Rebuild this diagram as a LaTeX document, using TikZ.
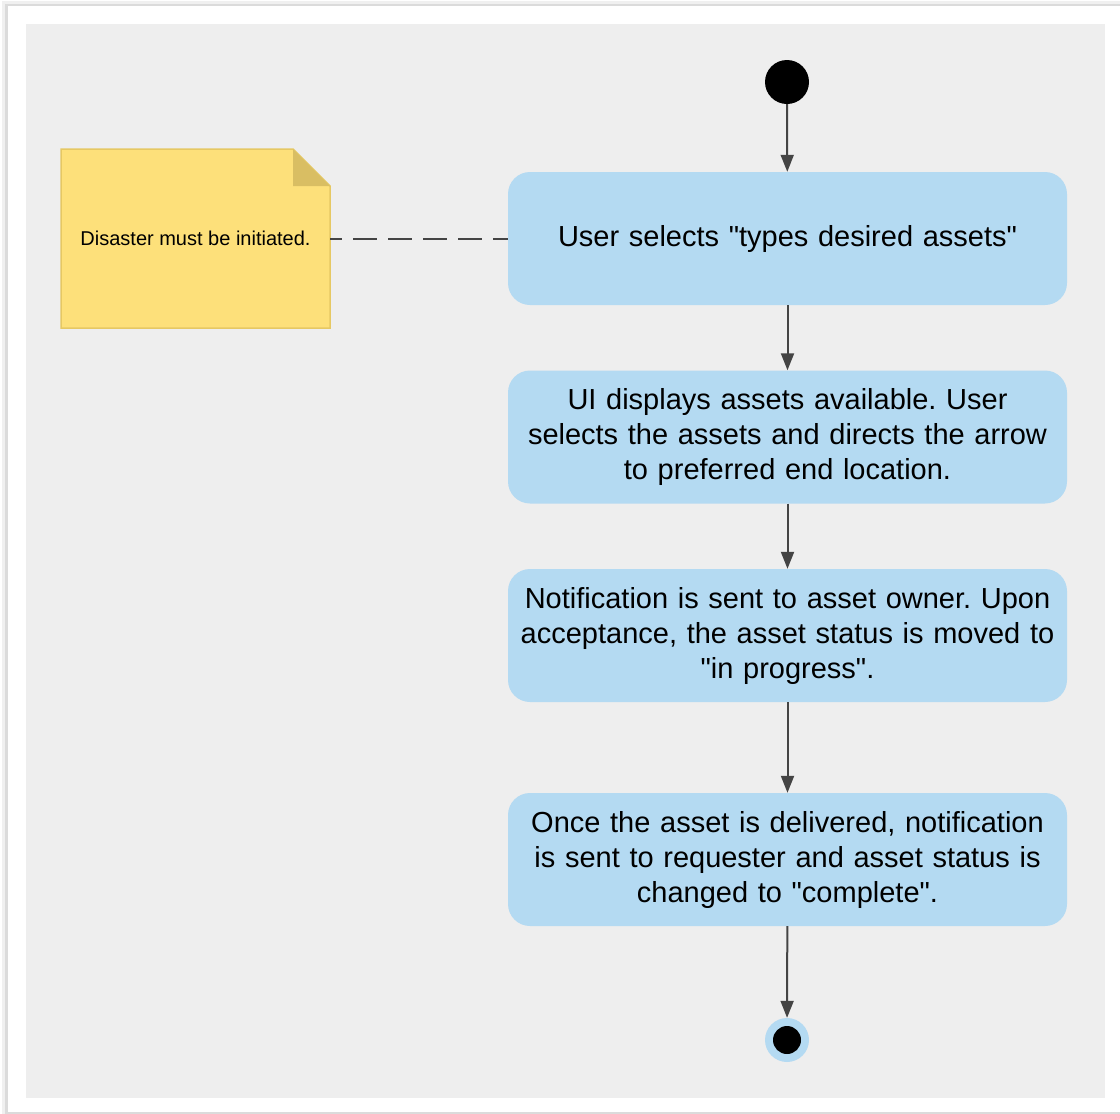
\documentclass[tikz,border=0pt]{standalone}
\usepackage{fontspec}
\setmainfont{Liberation Sans}
\usetikzlibrary{arrows.meta}
\definecolor{bgray}{HTML}{EEEEEE}
\definecolor{actblue}{HTML}{B4DAF2}
\definecolor{notefill}{HTML}{FDE07A}
\definecolor{notedraw}{HTML}{E6C863}
\definecolor{notefold}{HTML}{D9BE63}
\definecolor{linegray}{HTML}{444444}
\newcommand{\qq}{\textquotedbl}
\tikzset{
  act/.style={rectangle, rounded corners=22pt, fill=actblue, minimum width=559pt, minimum height=133pt, align=center, text width=552pt, font=\fontsize{29}{35}\selectfont\frenchspacing, inner sep=0pt},
  arr/.style={draw=linegray, line width=2pt, -{Triangle[width=13pt,length=17pt]}},
  notebox/.style={rectangle, minimum width=269pt, minimum height=179pt, inner sep=0pt}
}
\begin{document}
\begin{tikzpicture}[x=1pt,y=-1pt]
\useasboundingbox (0,0) rectangle (1120,1114);
\fill[white] (0,0) rectangle (1120,1114);
\fill[black!6] (2,1) rectangle (1120,1114);
\fill[black!14] (5,4) rectangle (1120,1114);
\fill[white] (8,6) rectangle (1120,1112);
\fill[bgray] (26,24) rectangle (1105,1098);
% start
\node[circle, fill=black, minimum size=44pt, inner sep=0pt] (s) at (787,82) {};
% activities
\node[act] (a1) at (787.5,238.5) {\raisebox{2pt}{User selects \qq types desired assets\qq}};
\node[act] (a2) at (787.5,437) {UI displays assets available. User\\selects the assets and directs the arrow\\to preferred end location.};
\node[act] (a3) at (787.5,635.5) {Notification is sent to asset owner. Upon\\acceptance, the asset status is moved to\\\qq in progress\qq.};
\node[act] (a4) at (787.5,859.5) {Once the asset is delivered, notification\\is sent to requester and asset status is\\changed to \qq complete\qq.};
% end
\node[circle, fill=actblue, minimum size=44pt, inner sep=0pt] (e) at (787,1040) {};
\node[circle, fill=black, minimum size=28pt, inner sep=0pt] (ei) at (787,1040) {};
% note
\node[notebox] (n) at (195.5,238.5) {};
\filldraw[fill=notefill, draw=notedraw, line width=1.5pt] (61,149) -- (293,149) -- (330,186) -- (330,328) -- (61,328) -- cycle;
\fill[notefold] (293,149) -- (330,186) -- (293,186) -- cycle;
\node[font=\fontsize{20}{24}\selectfont] (nt) at (n.center) {Disaster must be initiated.};
% connectors
\draw[arr] (s) -- (a1);
\draw[arr] (a1) -- (a2);
\draw[arr] (a2) -- (a3);
\draw[arr] (a3) -- (a4);
\draw[arr] (a4) -- (e);
\draw[linegray, line width=2pt, dash pattern=on 24pt off 11pt, dash phase=12pt] (n.east) -- (a1.west);
\end{tikzpicture}
\end{document}
